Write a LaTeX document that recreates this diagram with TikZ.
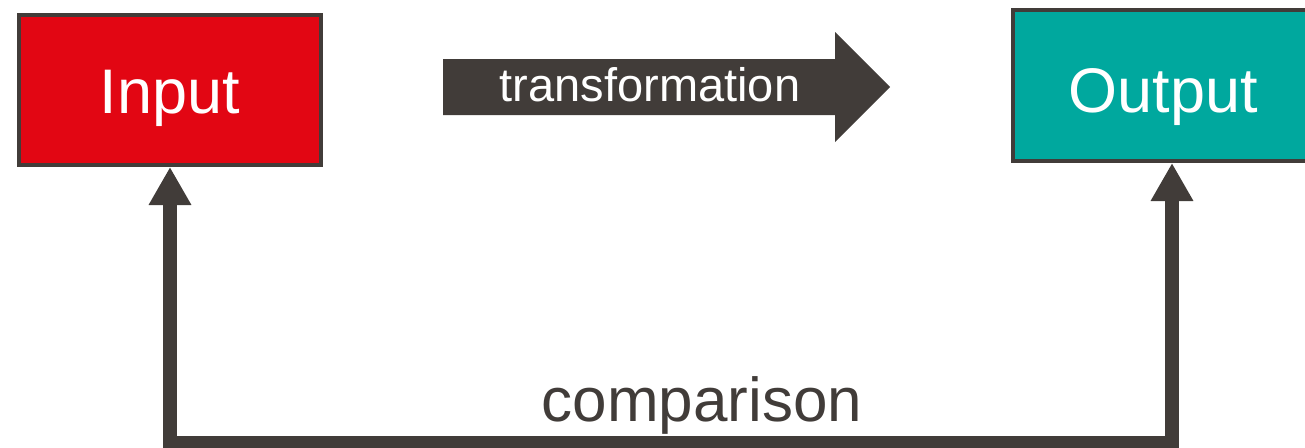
\documentclass[tikz,border=0pt]{standalone}
\usepackage{fontspec}
\setmainfont{Liberation Sans}
\usetikzlibrary{arrows.meta}
\definecolor{inred}{HTML}{E20613}
\definecolor{outteal}{HTML}{00A89E}
\definecolor{darkgray}{HTML}{413C39}
\tikzset{
  box/.style={draw=darkgray, line width=4pt, inner sep=0pt, text=white,
    text depth=0pt, font=\fontsize{63}{70}\selectfont},
  feedback/.style={draw=darkgray, line width=14pt, line join=miter,
    {Triangle[length=38pt,width=40pt]}-{Triangle[length=38pt,width=40pt]}},
  bodytext/.style={font=\fontsize{47}{54}\selectfont, text=white, anchor=base},
  looplabel/.style={font=\fontsize{62}{70}\selectfont, text=darkgray, anchor=base}
}
\begin{document}
\begin{tikzpicture}[x=1pt,y=-1pt]
  \useasboundingbox (0,0) rectangle (1305,447);
  \begin{scope}
    \clip (0,0) rectangle (1305,447);
    % input and output boxes
    \node[box, fill=inred, text height=46pt, minimum width=302pt, minimum height=150pt] (in) at (170,90) {Input};
    \node[box, fill=outteal, text height=53pt, minimum width=300pt, minimum height=151pt] (out) at (1163,85.5) {Output};
    % transformation arrow
    \fill[darkgray] (443,59) -- (835,59) -- (835,32) -- (890,87) -- (835,142)
      -- (835,115) -- (443,115) -- cycle;
    \node[bodytext] (trans) at (650,101) {transformation};
    % comparison loop
    \coordinate (ocol) at (1172,0);
    \draw[feedback] (out.south -| ocol) |- (702,443) -| (in.south);
    \node[looplabel] (cmp) at (702,421) {comparison};
  \end{scope}
\end{tikzpicture}
\end{document}
